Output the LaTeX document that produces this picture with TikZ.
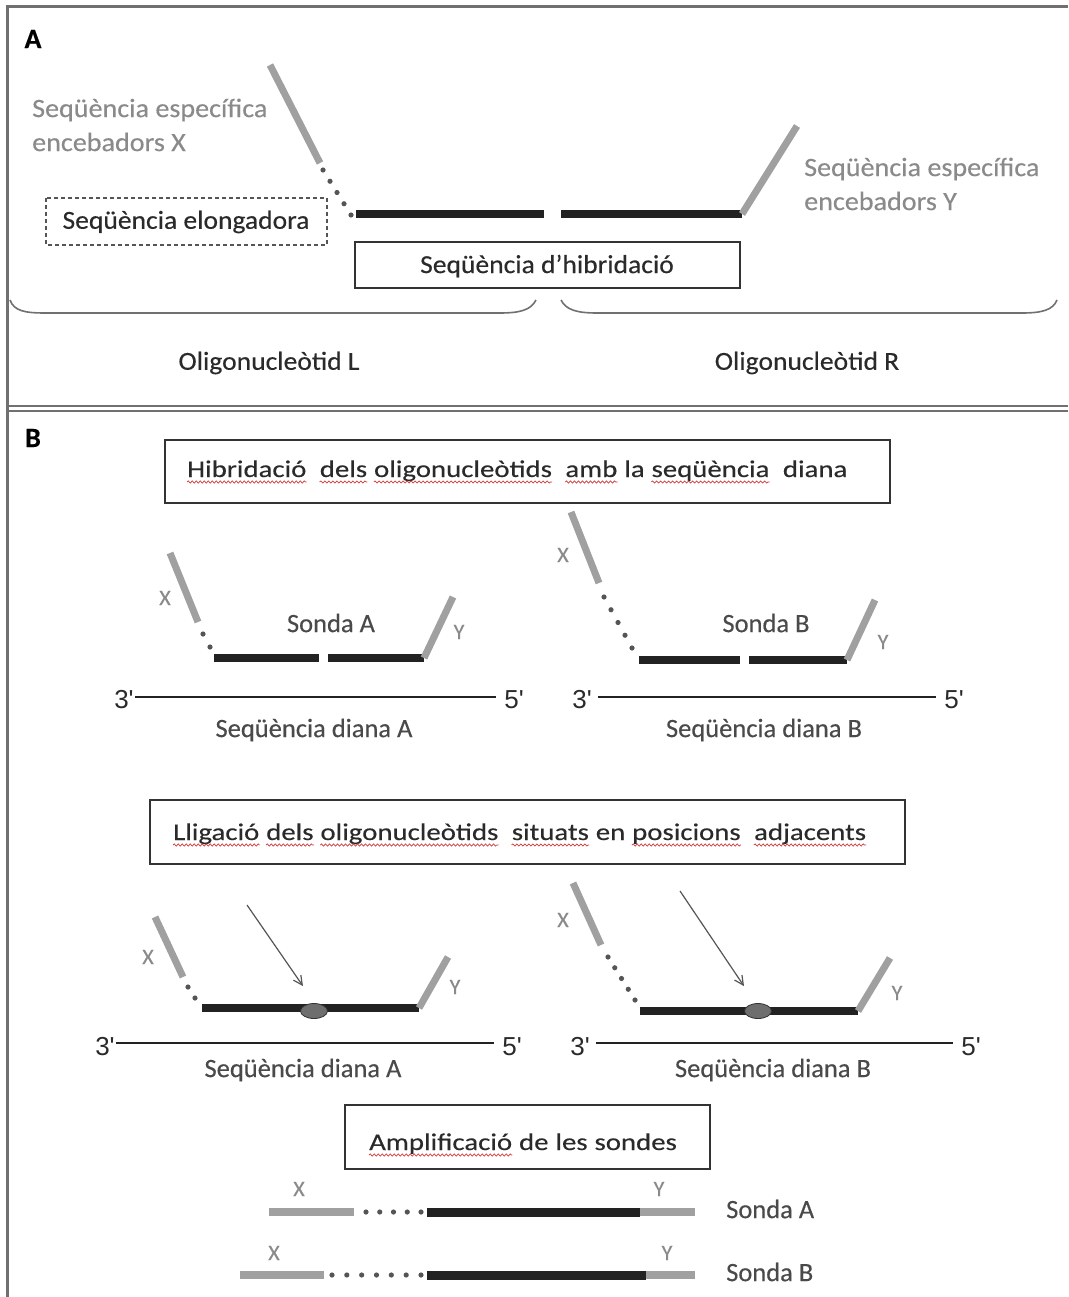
\documentclass[tikz,border=0pt]{standalone}
\usepackage{fontspec}
\setmainfont{Carlito}[FakeBold=0.3]
\newfontfamily\widefont{Carlito}[FakeStretch=1.2,FakeBold=0.3]
\newfontfamily\midfont{Carlito}[FakeStretch=1.06,FakeBold=0.3]
\newfontfamily\arialf{Liberation Sans}
\usetikzlibrary{arrows.meta,calc,decorations.pathmorphing,shapes.geometric}
\definecolor{framec}{HTML}{707070}
\definecolor{boxc}{HTML}{333333}
\definecolor{txt}{HTML}{2A2A2A}
\definecolor{graytxt}{HTML}{8A8A8A}
\definecolor{graybar}{HTML}{A0A0A0}
\definecolor{blackbar}{HTML}{222222}
\definecolor{dotc}{HTML}{555555}
\definecolor{wavered}{HTML}{D03A3A}
\begin{document}
\begin{tikzpicture}[x=1pt,y=-1pt,
  lbl/.style={font=\midfont\fontsize{26}{34}\selectfont, text=txt, inner sep=0pt},
  slbl/.style={font=\fontsize{26.5}{34}\selectfont, text=txt!85, inner sep=0pt},
  glbl/.style={font=\midfont\fontsize{26.5}{34}\selectfont, text=graytxt, inner sep=0pt, align=left},
  word/.style={font=\widefont\fontsize{24}{28}\selectfont, text=txt, inner sep=0pt, anchor=base west},
  xylbl/.style={font=\fontsize{22}{26}\selectfont, text=graytxt, inner sep=0pt},
  endlbl/.style={font=\arialf\fontsize{26}{30}\selectfont, text=txt, inner sep=0pt},
  panel/.style={font=\bfseries\fontsize{28}{34}\selectfont, text=black, inner sep=0pt},
  gbar/.style={draw=graybar, line width=7pt},
  bbar/.style={draw=blackbar, line width=8pt},
  strand/.style={draw=blackbar, line width=2pt},
  stepbox/.style={draw=boxc, line width=2pt},
  brace/.style={draw=framec, line width=1.6pt},
  dotmark/.style={fill=dotc},
  wave/.style={draw=wavered, line width=0.7pt, decorate, decoration={snake, segment length=4pt, amplitude=1.1pt}},
  ligdot/.style={ellipse, minimum width=27pt, minimum height=15pt, inner sep=0pt, fill=dotc!85, draw=boxc, line width=0.8pt},
  ligarrow/.style={draw=dotc, line width=1.2pt, -{Straight Barb[length=9pt,width=9pt]}},
]
\useasboundingbox (0,0) rectangle (1068,1297);
% frame
\draw[draw=framec, line width=3pt] (7,1297) -- (7,7) -- (1068,7);
\draw[draw=framec, line width=2pt] (7,406) -- (1068,406);
\draw[draw=framec, line width=2pt] (7,411) -- (1068,411);

% ================= Panel A =================
\node[panel] (pA) at (33,39) {A};
\node[glbl, anchor=west] (specX) at (32,125) {Seqüència específica\\encebadors X};
\node[glbl, anchor=west] (specY) at (804,184) {Seqüència específica\\encebadors Y};

\coordinate (aXt) at (270,65);
\coordinate (aXb) at (320,163);
\coordinate (aD1) at (323,170);
\coordinate (aD2) at (351,215);
\coordinate (aL1) at (356,214);
\coordinate (aL2) at (544,214);
\coordinate (aR1) at (561,214);
\coordinate (aR2) at (742,214);
\coordinate (aYt) at (797,126);
\draw[gbar] (aXt) -- (aXb);
\foreach \i in {0,...,4} \fill[dotmark] ($(aD1)!\i/4!(aD2)$) circle (2.6);
\draw[bbar] (aL1) -- (aL2);
\draw[bbar] (aR1) -- (aR2);
\draw[gbar] (aR2) -- (aYt);

\draw[draw=dotc, dash pattern=on 4pt off 3pt, line width=1.3pt] (46,198) rectangle (327,245);
\node[lbl] (elong) at (186,222) {Seqüència elongadora};
\draw[draw=boxc, line width=1.5pt] (355,242) rectangle (740,288);
\node[lbl] (hib) at (547,266) {Seqüència d’hibridació};

\draw[brace] (10,300) .. controls (14,311) and (25,313) .. (45,313) -- (500,313) .. controls (520,313) and (531,310) .. (536,300);
\draw[brace] (561,300) .. controls (566,310) and (577,313) .. (597,313) -- (1022,313) .. controls (1042,313) and (1053,310) .. (1057,300);
\node[lbl] (oligoL) at (269,363) {Oligonucleòtid L};
\node[lbl] (oligoR) at (807,363) {Oligonucleòtid R};

% ================= Panel B =================
\node[panel] (pB) at (33,438) {B};

% step 1 box
\draw[stepbox] (165,440) rectangle (890,503);
\node[word] (s1a) at (187,477) {Hibridació};
\node[word] (s1b) at ([xshift=13pt]s1a.base east) {dels};
\node[word] (s1c) at ([xshift=6.5pt]s1b.base east) {oligonucleòtids};
\node[word] (s1d) at ([xshift=13pt]s1c.base east) {amb};
\node[word] (s1e) at ([xshift=6.5pt]s1d.base east) {la};
\node[word] (s1f) at ([xshift=6.5pt]s1e.base east) {seqüència};
\node[word] (s1g) at ([xshift=13pt]s1f.base east) {diana};
\foreach \w in {s1a,s1b,s1c,s1d,s1f}
  \draw[wave] ([yshift=-5pt]\w.base west) -- ([yshift=-5pt]\w.base east);

% --- hybridisation, probe A
\coordinate (h1Xt) at (170,553);
\coordinate (h1Xb) at (198,622);
\coordinate (h1D1) at (203,634);
\coordinate (h1D2) at (210,647);
\coordinate (h1L1) at (214,658);
\coordinate (h1L2) at (319,658);
\coordinate (h1R1) at (328,658);
\coordinate (h1R2) at (424,658);
\coordinate (h1Yt) at (453,597);
\draw[gbar] (h1Xt) -- (h1Xb);
\foreach \i in {0,1} \fill[dotmark] ($(h1D1)!\i!(h1D2)$) circle (2.6);
\draw[bbar] (h1L1) -- (h1L2);
\draw[bbar] (h1R1) -- (h1R2);
\draw[gbar] (h1R2) -- (h1Yt);
\node[xylbl] (h1X) at (165,598) {X};
\node[xylbl] (h1Y) at (459,632) {Y};
\node[slbl] (sondaA1) at (331,623) {Sonda A};
\node[endlbl] (h1t3) at (124,700) {3'};
\node[endlbl] (h1t5) at (514,700) {5'};
\coordinate (h1s1) at ([xshift=1pt,yshift=3pt]h1t3.east);
\coordinate (h1s2) at ([xshift=-8pt,yshift=3pt]h1t5.west);
\draw[strand] (h1s1) -- (h1s2);
\node[slbl] (dianaA1) at (314,730) {Seqüència diana A};

% --- hybridisation, probe B
\coordinate (h2Xt) at (571,512);
\coordinate (h2Xb) at (599,583);
\coordinate (h2D1) at (604,597);
\coordinate (h2D2) at (632,648);
\coordinate (h2L1) at (639,660);
\coordinate (h2L2) at (740,660);
\coordinate (h2R1) at (749,660);
\coordinate (h2R2) at (847,660);
\coordinate (h2Yt) at (875,600);
\draw[gbar] (h2Xt) -- (h2Xb);
\foreach \i in {0,...,4} \fill[dotmark] ($(h2D1)!\i/4!(h2D2)$) circle (2.6);
\draw[bbar] (h2L1) -- (h2L2);
\draw[bbar] (h2R1) -- (h2R2);
\draw[gbar] (h2R2) -- (h2Yt);
\node[xylbl] (h2X) at (563,555) {X};
\node[xylbl] (h2Y) at (883,642) {Y};
\node[slbl] (sondaB1) at (766,623) {Sonda B};
\node[endlbl] (h2t3) at (582,700) {3'};
\node[endlbl] (h2t5) at (954,700) {5'};
\coordinate (h2s1) at ([xshift=6pt,yshift=3pt]h2t3.east);
\coordinate (h2s2) at ([xshift=-8pt,yshift=3pt]h2t5.west);
\draw[strand] (h2s1) -- (h2s2);
\node[slbl] (dianaB1) at (764,730) {Seqüència diana B};

% --- ligation step box
\draw[stepbox] (150,800) rectangle (905,864);
\node[word] (s2a) at (173,840) {Lligació};
\node[word] (s2b) at ([xshift=6.5pt]s2a.base east) {dels};
\node[word] (s2c) at ([xshift=6.5pt]s2b.base east) {oligonucleòtids};
\node[word] (s2d) at ([xshift=13pt]s2c.base east) {situats};
\node[word] (s2e) at ([xshift=6.5pt]s2d.base east) {en};
\node[word] (s2f) at ([xshift=6.5pt]s2e.base east) {posicions};
\node[word] (s2g) at ([xshift=13pt]s2f.base east) {adjacents};
\foreach \w in {s2a,s2b,s2c,s2d,s2f,s2g}
  \draw[wave] ([yshift=-5pt]\w.base west) -- ([yshift=-5pt]\w.base east);

% ligation probe A
\coordinate (l1Xt) at (155,917);
\coordinate (l1Xb) at (183,977);
\coordinate (l1D1) at (188,987);
\coordinate (l1D2) at (195,998);
\coordinate (l1L1) at (202,1008);
\coordinate (l1L2) at (419,1008);
\coordinate (l1Yt) at (448,957);
\coordinate (l1As) at (247,905);
\draw[gbar] (l1Xt) -- (l1Xb);
\foreach \i in {0,1} \fill[dotmark] ($(l1D1)!\i!(l1D2)$) circle (2.6);
\draw[bbar] (l1L1) -- (l1L2);
\draw[gbar] (l1L2) -- (l1Yt);
\node[ligdot] (lig1) at (314,1011) {};
\draw[ligarrow] (l1As) -- ([xshift=-11pt,yshift=17pt]lig1.north);
\node[xylbl] (l1X) at (148,957) {X};
\node[xylbl] (l1Y) at (455,987) {Y};
\node[endlbl] (l1t3) at (105,1047) {3'};
\node[endlbl] (l1t5) at (512,1047) {5'};
\coordinate (l1s1) at ([xshift=1pt,yshift=4pt]l1t3.east);
\coordinate (l1s2) at ([xshift=-8pt,yshift=4pt]l1t5.west);
\draw[strand] (l1s1) -- (l1s2);
\node[slbl] (dianaA2) at (303,1070) {Seqüència diana A};

% ligation probe B
\coordinate (l2Xt) at (573,883);
\coordinate (l2Xb) at (601,945);
\coordinate (l2D1) at (608,957);
\coordinate (l2D2) at (635,1000);
\coordinate (l2L1) at (640,1011);
\coordinate (l2L2) at (858,1011);
\coordinate (l2Yt) at (890,958);
\coordinate (l2As) at (680,891);
\draw[gbar] (l2Xt) -- (l2Xb);
\foreach \i in {0,...,4} \fill[dotmark] ($(l2D1)!\i/4!(l2D2)$) circle (2.6);
\draw[bbar] (l2L1) -- (l2L2);
\draw[gbar] (l2L2) -- (l2Yt);
\node[ligdot] (lig2) at (758,1011) {};
\draw[ligarrow] (l2As) -- ([xshift=-14pt,yshift=17pt]lig2.north);
\node[xylbl] (l2X) at (563,920) {X};
\node[xylbl] (l2Y) at (897,993) {Y};
\node[endlbl] (l2t3) at (580,1047) {3'};
\node[endlbl] (l2t5) at (971,1047) {5'};
\coordinate (l2s1) at ([xshift=6pt,yshift=4pt]l2t3.east);
\coordinate (l2s2) at ([xshift=-8pt,yshift=4pt]l2t5.west);
\draw[strand] (l2s1) -- (l2s2);
\node[slbl] (dianaB2) at (773,1070) {Seqüència diana B};

% --- amplification step box
\draw[stepbox] (345,1105) rectangle (710,1169);
\node[word] (s3a) at (369,1150) {Amplificació};
\node[word] (s3b) at ([xshift=6.5pt]s3a.base east) {de};
\node[word] (s3c) at ([xshift=6.5pt]s3b.base east) {les};
\node[word] (s3d) at ([xshift=6.5pt]s3c.base east) {sondes};
\draw[wave] ([yshift=-5pt]s3a.base west) -- ([yshift=-5pt]s3a.base east);

% amplified probe A
\coordinate (pAx1) at (269,1212);
\coordinate (pAx2) at (354,1212);
\coordinate (pAd1) at (366,1212);
\coordinate (pAd2) at (421,1212);
\coordinate (pAb1) at (427,1212);
\coordinate (pAb2) at (640,1212);
\coordinate (pAy2) at (695,1212);
\draw[gbar, line width=8pt] (pAx1) -- (pAx2);
\foreach \i in {0,...,4} \fill[dotmark] ($(pAd1)!\i/4!(pAd2)$) circle (2.6);
\draw[bbar, line width=9pt] (pAb1) -- (pAb2);
\draw[gbar, line width=8pt] (pAb2) -- (pAy2);
\node[xylbl] (pAX) at (299,1189) {X};
\node[xylbl] (pAY) at (659,1189) {Y};
\node[slbl, anchor=west] (sondaA2) at (726,1209) {Sonda A};

% amplified probe B
\coordinate (pBx1) at (240,1275);
\coordinate (pBx2) at (324,1275);
\coordinate (pBd1) at (332,1275);
\coordinate (pBd2) at (421,1275);
\coordinate (pBb1) at (427,1275);
\coordinate (pBb2) at (646,1275);
\coordinate (pBy2) at (695,1275);
\draw[gbar, line width=8pt] (pBx1) -- (pBx2);
\foreach \i in {0,...,6} \fill[dotmark] ($(pBd1)!\i/6!(pBd2)$) circle (2.6);
\draw[bbar, line width=9pt] (pBb1) -- (pBb2);
\draw[gbar, line width=8pt] (pBb2) -- (pBy2);
\node[xylbl] (pBX) at (274,1253) {X};
\node[xylbl] (pBY) at (667,1253) {Y};
\node[slbl, anchor=west] (sondaB2) at (726,1272) {Sonda B};
\end{tikzpicture}
\end{document}
